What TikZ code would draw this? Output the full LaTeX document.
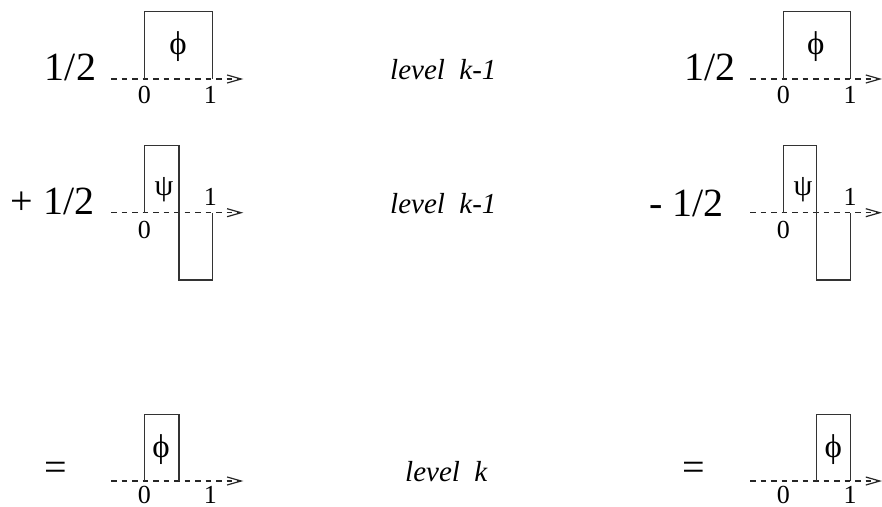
\documentclass[tikz,border=0pt]{standalone}
\usepackage{fontspec}
\setmainfont{Liberation Serif}
\usetikzlibrary{arrows.meta}
\begin{document}
\begin{tikzpicture}[x=1pt,y=-1pt,
  signal/.style={draw=black!80, line width=1.1pt, line join=miter},
  axis/.style={draw=black!85, line width=1.3pt, dash pattern=on 5.5pt off 5pt,
    -{Straight Barb[length=14pt,width=8pt,line width=1.2pt]}},
  tick/.style={inner sep=0pt, font=\fontsize{26}{26}\selectfont},
  phiglyph/.style={inner sep=0pt, font=\fontsize{33}{33}\selectfont},
  psiglyph/.style={inner sep=0pt, font=\fontsize{30}{30}\selectfont},
  coef/.style={inner sep=0pt, font=\fontsize{40}{40}\selectfont},
  levellabel/.style={inner sep=0pt, anchor=base west, font=\fontsize{29}{29}\selectfont\itshape}]
\useasboundingbox (0,0) rectangle (882,506);

% ---------- left column ----------
\node[coef] (cA) at (70.5,67) {1/2};
\begin{scope}[shift={(144.3,79)}]
  \coordinate (A-s) at (-33.3,0); \coordinate (A-e) at (99,0);
  \coordinate (A-b0) at (0,0); \coordinate (A-b1) at (68,0);
  \draw[axis] (A-s) -- (A-e);
  \draw[signal] (A-b0) -- ++(0,-67.3) -| (A-b1);
  \node[tick] (A-0) at (0,16) {0};
  \node[tick] (A-1) at (66,16) {1};
  \node[phiglyph] (A-phi) at (33.7,-32) {ϕ};
\end{scope}

\node[coef] (cB) at (52.5,201.7) {+ 1/2};
\begin{scope}[shift={(144.3,212.7)}]
  \coordinate (B-s) at (-33.3,0); \coordinate (B-e) at (99,0);
  \coordinate (B-b0) at (0,0); \coordinate (B-b1) at (68,0);
  \draw[axis] (B-s) -- (B-e);
  \draw[signal] (B-b0) -- (0,-67) -- (34.7,-67) -- (34.7,67.3) -- (68,67.3) -- (B-b1);
  \node[tick] (B-0) at (0,17.3) {0};
  \node[tick] (B-1) at (66,-16) {1};
  \node[psiglyph] (B-psi) at (19.7,-22.7) {ψ};
\end{scope}

\node[coef] (cC) at (55.7,471.7) {=};
\begin{scope}[shift={(144.3,481)}]
  \coordinate (C-s) at (-33.3,0); \coordinate (C-e) at (99,0);
  \coordinate (C-b0) at (0,0); \coordinate (C-b1) at (34.7,0);
  \draw[axis] (C-s) -- (C-e);
  \draw[signal] (C-b0) -- ++(0,-66.7) -| (C-b1);
  \node[tick] (C-0) at (0,14) {0};
  \node[tick] (C-1) at (66,14) {1};
  \node[phiglyph] (C-phi) at (16.7,-31.7) {ϕ};
\end{scope}

% ---------- middle column ----------
\node[levellabel] (L1) at (390,79) {level\hspace{0.5em}k-1};
\node[levellabel] (L2) at (390,213.3) {level\hspace{0.5em}k-1};
\node[levellabel] (L3) at (405,481.7) {level\hspace{0.5em}k};

% ---------- right column ----------
\node[coef] (cD) at (710,67) {1/2};
\begin{scope}[shift={(783.3,79)}]
  \coordinate (D-s) at (-33.3,0); \coordinate (D-e) at (98.7,0);
  \coordinate (D-b0) at (0,0); \coordinate (D-b1) at (67.4,0);
  \draw[axis] (D-s) -- (D-e);
  \draw[signal] (D-b0) -- ++(0,-67.3) -| (D-b1);
  \node[tick] (D-0) at (0,16) {0};
  \node[tick] (D-1) at (66.7,16) {1};
  \node[phiglyph] (D-phi) at (32.4,-32) {ϕ};
\end{scope}

\node[coef] (cE) at (686.5,203) {- 1/2};
\begin{scope}[shift={(783.3,212.7)}]
  \coordinate (E-s) at (-33.3,0); \coordinate (E-e) at (98.7,0);
  \coordinate (E-b0) at (0,0); \coordinate (E-b1) at (67.4,0);
  \draw[axis] (E-s) -- (E-e);
  \draw[signal] (E-b0) -- (0,-67) -- (33.4,-67) -- (33.4,67.3) -- (67.4,67.3) -- (E-b1);
  \node[tick] (E-0) at (0,17.3) {0};
  \node[tick] (E-1) at (66.7,-16) {1};
  \node[psiglyph] (E-psi) at (19.7,-22.7) {ψ};
\end{scope}

\node[coef] (cF) at (693.3,471.7) {=};
\begin{scope}[shift={(783.3,481)}]
  \coordinate (F-s) at (-33.3,0); \coordinate (F-e) at (98.7,0);
  \coordinate (F-b0) at (33.4,0); \coordinate (F-b1) at (67.4,0);
  \draw[axis] (F-s) -- (F-e);
  \draw[signal] (F-b0) -- ++(0,-66.7) -| (F-b1);
  \node[tick] (F-0) at (0,14) {0};
  \node[tick] (F-1) at (66.7,14) {1};
  \node[phiglyph] (F-phi) at (50,-31.7) {ϕ};
\end{scope}
\end{tikzpicture}
\end{document}
